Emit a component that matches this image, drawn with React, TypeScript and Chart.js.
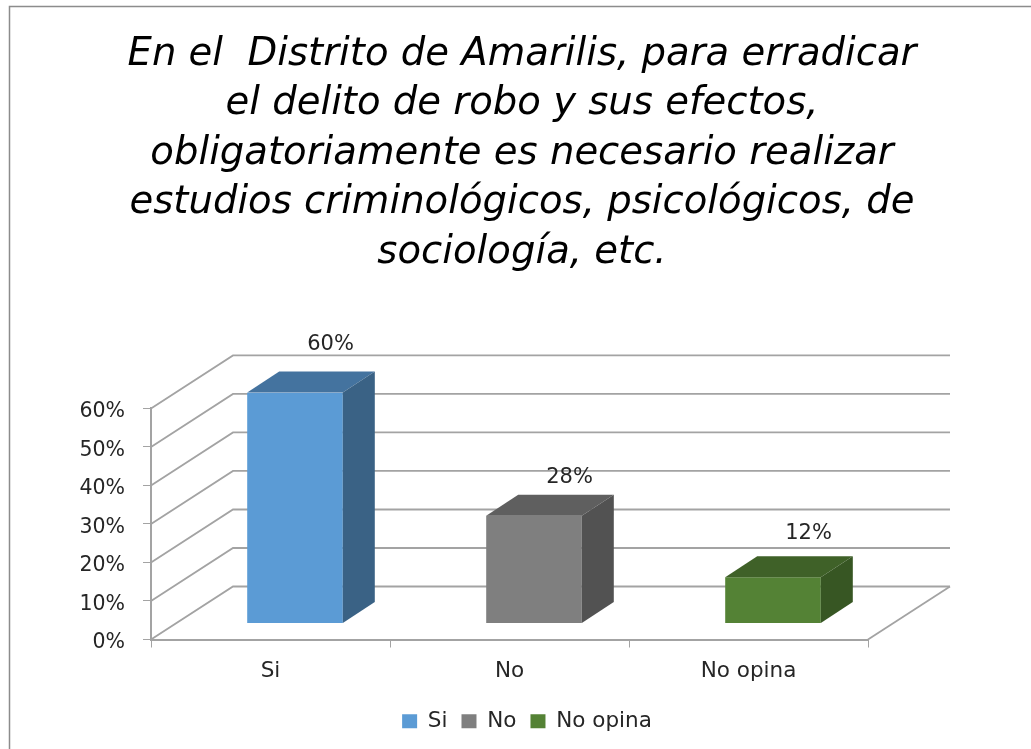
import React, { useEffect, useRef } from "react";
import { Chart, registerables } from "chart.js";

Chart.register(...registerables);

const categories = ["Si", "No", "No opina"];
const values = [60, 28, 12];
const yTicks = [0, 10, 20, 30, 40, 50, 60];
const titleLines = [
  "En el  Distrito de Amarilis, para erradicar",
  "el delito de robo y sus efectos,",
  "obligatoriamente es necesario realizar",
  "estudios criminológicos, psicológicos, de",
  "sociología, etc.",
];
const frontColors = ["#5B9BD5", "#7F7F7F", "#548235"];
const topColors = ["#44739F", "#5F5F5F", "#3F6128"];
const sideColors = ["#3A6285", "#525252", "#375623"];

const FONT = "'DejaVu Sans', sans-serif";
const GRID = "#A3A3A3";
const TEXT = "#262626";
const WALL_DX = 82;
const WALL_DY = -53;
const BAR_DX = 24.5;
const BAR_DY = -16;
const BAR_DEPTH_DX = 32;
const BAR_DEPTH_DY = -21;
const LABEL_DX = 35.5;
const LABEL_DY = [-27, -17, -23];

const frame = {
  id: "frame",
  beforeDraw(chart: any) {
    const c = chart.ctx;
    c.save();
    c.strokeStyle = "#8C8C8C";
    c.lineWidth = 1.5;
    c.beginPath();
    c.moveTo(9.5, 749);
    c.lineTo(9.5, 6.5);
    c.lineTo(1031, 6.5);
    c.stroke();
    c.restore();
  },
};

const legendShift = {
  id: "legendShift",
  afterLayout(chart: any) {
    chart.legend.left += 5;
    chart.legend.right += 5;
  },
};

const walls = {
  id: "walls",
  beforeDatasetsDraw(chart: any) {
    const c = chart.ctx;
    const x = chart.scales.x;
    const y = chart.scales.y;
    c.save();
    c.strokeStyle = GRID;
    c.lineWidth = 1.8;
    yTicks.forEach((t) => {
      const py = y.getPixelForValue(t);
      c.beginPath();
      c.moveTo(x.left, py);
      c.lineTo(x.left + WALL_DX, py + WALL_DY);
      c.lineTo(x.right + WALL_DX, py + WALL_DY);
      c.stroke();
    });
    const by = y.getPixelForValue(0);
    c.beginPath();
    c.moveTo(x.right, by);
    c.lineTo(x.right + WALL_DX, by + WALL_DY);
    c.stroke();
    c.restore();
  },
};

// The library draws each bar's front face; this shifts it onto the floor and adds top and side.
const bars3d = {
  id: "bars3d",
  beforeDatasetDraw(chart: any) {
    chart.ctx.save();
    chart.ctx.translate(BAR_DX, BAR_DY);
  },
  afterDatasetDraw(chart: any) {
    const c = chart.ctx;
    const meta = chart.getDatasetMeta(0);
    meta.data.forEach((bar: any, i: number) => {
      const l = bar.x - bar.width / 2;
      const r = bar.x + bar.width / 2;
      const t = bar.y;
      const b = bar.base;
      c.fillStyle = topColors[i];
      c.beginPath();
      c.moveTo(l, t);
      c.lineTo(l + BAR_DEPTH_DX, t + BAR_DEPTH_DY);
      c.lineTo(r + BAR_DEPTH_DX, t + BAR_DEPTH_DY);
      c.lineTo(r, t);
      c.closePath();
      c.fill();
      c.fillStyle = sideColors[i];
      c.beginPath();
      c.moveTo(r, t);
      c.lineTo(r + BAR_DEPTH_DX, t + BAR_DEPTH_DY);
      c.lineTo(r + BAR_DEPTH_DX, b + BAR_DEPTH_DY);
      c.lineTo(r, b);
      c.closePath();
      c.fill();
    });
    c.restore();
    c.save();
    c.fillStyle = TEXT;
    c.font = `21px ${FONT}`;
    c.textAlign = "center";
    c.textBaseline = "middle";
    meta.data.forEach((bar: any, i: number) => {
      c.fillText(
        `${values[i]}%`,
        bar.x + BAR_DX + LABEL_DX,
        bar.y + BAR_DY + BAR_DEPTH_DY + LABEL_DY[i]
      );
    });
    c.restore();
  },
};

export default function App() {
  const ref = useRef<HTMLCanvasElement>(null);
  useEffect(() => {
    const chart = new Chart(ref.current as HTMLCanvasElement, {
      type: "bar",
      data: {
        labels: categories,
        datasets: [
          {
            data: values,
            backgroundColor: frontColors,
            barPercentage: 0.4,
            categoryPercentage: 1,
          },
        ],
      },
      plugins: [frame, legendShift, walls, bars3d],
      options: {
        responsive: false,
        animation: false,
        layout: { padding: { left: 13, right: 0, top: 0, bottom: 7 } },
        plugins: {
          tooltip: { enabled: false },
          title: {
            display: true,
            text: titleLines,
            color: "#000000",
            font: { family: FONT, size: 38.6, style: "italic", weight: "normal", lineHeight: 1.282 },
            padding: { top: 30, bottom: 131 },
          },
          legend: {
            position: "bottom",
            labels: {
              color: TEXT,
              font: { family: FONT, size: 21.5 },
              boxWidth: 15,
              boxHeight: 14,
              padding: 14,
              generateLabels: () =>
                categories.map((text, i) => ({
                  text,
                  fillStyle: frontColors[i],
                  strokeStyle: frontColors[i],
                  lineWidth: 0,
                  fontColor: TEXT,
                  index: i,
                  datasetIndex: 0,
                })),
            },
          },
        },
        scales: {
          x: {
            afterFit: (s: any) => {
              s.height = 57;
            },
            grid: {
              drawOnChartArea: false,
              drawTicks: true,
              tickLength: 8,
              color: GRID,
              offset: true,
            },
            border: { color: GRID, width: 2 },
            ticks: { color: TEXT, font: { family: FONT, size: 21.5 }, padding: 11 },
          },
          y: {
            min: 0,
            max: 60,
            afterFit: (s: any) => {
              s.width = 138;
            },
            afterBuildTicks: (s: any) => {
              s.ticks = yTicks.map((value) => ({ value }));
            },
            grid: { drawOnChartArea: false, drawTicks: true, tickLength: 8, color: GRID },
            border: { color: GRID, width: 2 },
            ticks: {
              color: TEXT,
              font: { family: FONT, size: 20.5 },
              padding: 18,
              labelOffset: 3.5,
              callback: (v: any) => `${v}%`,
            },
          },
          gap: {
            type: "linear",
            position: "right",
            display: true,
            afterFit: (s: any) => {
              s.width = 163;
            },
            grid: { display: false },
            border: { display: false },
            ticks: { display: false },
          },
        },
      },
    } as any);
    return () => chart.destroy();
  }, []);
  return (
    <div style={{ position: "absolute", left: 0, top: 0, background: "#ffffff" }}>
      <canvas ref={ref} width={1031} height={749} style={{ display: "block" }} />
    </div>
  );
}
